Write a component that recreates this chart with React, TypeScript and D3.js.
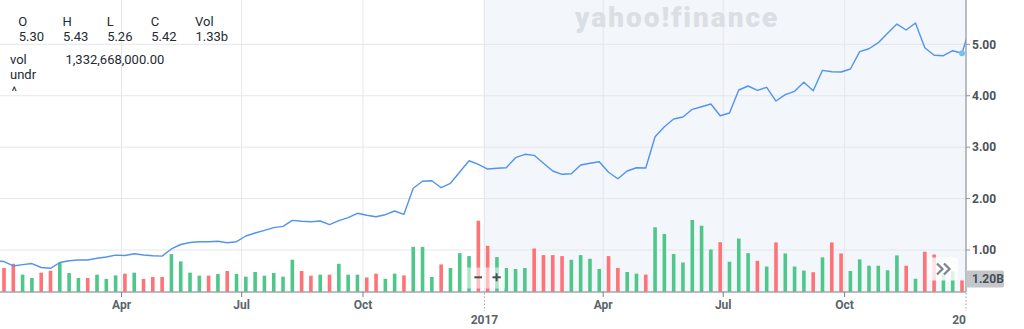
import React from 'react';
import * as d3 from 'd3';

// weekly periods (first one is the partially hidden week before Jan 2016, last one is the partial week of Jan 2018)
const weeks: Date[] = d3.timeMonday.range(new Date(2015, 11, 28), new Date(2018, 0, 2));

const closes: number[] = [
  0.785,
  0.776, 0.689, 0.715, 0.737, 0.66, 0.644, 0.757, 0.79, 0.806, 0.806,
  0.84, 0.864, 0.9, 0.893, 0.928, 0.903, 0.889, 0.88, 1.02, 1.107,
  1.146, 1.161, 1.161, 1.17, 1.142, 1.161, 1.272, 1.33, 1.383, 1.434,
  1.46, 1.577, 1.558, 1.55, 1.564, 1.492, 1.57, 1.628, 1.714, 1.675,
  1.647, 1.686, 1.758, 1.694, 2.2, 2.336, 2.347, 2.211, 2.297, 2.517,
  2.736, 2.666, 2.575, 2.59, 2.6, 2.795, 2.861, 2.841, 2.686, 2.536,
  2.472, 2.484, 2.653, 2.686, 2.717, 2.511, 2.386, 2.536, 2.6, 2.594,
  3.203, 3.397, 3.547, 3.586, 3.736, 3.786, 3.839, 3.611, 3.664, 4.111,
  4.189, 4.105, 4.164, 3.897, 4.02, 4.086, 4.261, 4.097, 4.494, 4.467,
  4.461, 4.519, 4.856, 4.914, 5.031, 5.214, 5.394, 5.278, 5.414, 4.934,
  4.786, 4.778, 4.875, 4.825,
  5.42,
];

// weekly volume, billions
const volumes: number[] = [
  2.3,
  2.58, 3.04, 1.85, 1.49, 2.07, 2.28, 3.18, 2.03, 1.49, 1.49, 1.85, 1.38, 1.77, 1.96, 2.07, 1.38, 1.6, 1.6, 4.1, 3.3, 2.07,
  1.74, 1.74, 1.92, 2.25, 1.92, 1.63, 2.14, 1.74, 2.03, 1.63, 3.48, 2.25, 1.74, 1.85, 1.85, 3.04, 1.85, 1.85, 1.55, 1.96, 1.4,
  1.96, 1.77, 4.89, 4.89, 1.6, 2.97, 2.58, 4.2, 3.88, 7.75, 5.0, 3.77, 2.58, 2.47, 2.58, 4.71, 3.99, 3.99, 3.88, 3.48,
  3.99, 3.59, 2.47, 3.88, 2.58, 2.14, 1.96, 1.85, 7.03, 6.3, 4.1, 3.18, 7.83, 7.2, 4.6, 5.4, 3.26, 5.8, 4.2, 3.37,
  2.74, 5.37, 4.17, 2.74, 2.3, 2.12, 3.74, 5.37, 4.17, 2.25, 3.52, 2.83, 2.83, 2.33, 3.96, 2.83, 1.4, 4.35, 4.05, 2.0, 2.2, 1.22,
  1.33,
];

// u = up week (green), d = down week (red)
const directionGroups: string[] = [
  'd',
  'dduudduuuduuududdduuu',
  'ududuuuuuuudduduuuddu',
  'uduuuduuudduuuuddddu',
  'uuudduuduuuuuuuduuud',
  'uduuududduuuuuududduud',
  'u',
];
const directions: string = directionGroups.join('');

const priceTicks: number[] = [1, 2, 3, 4, 5];
const timeTicks: Date[] = [
  new Date(2016, 3, 1), new Date(2016, 6, 1), new Date(2016, 9, 1), new Date(2017, 0, 1),
  new Date(2017, 3, 1), new Date(2017, 6, 1), new Date(2017, 9, 1), new Date(2018, 0, 1),
];
const timeLabels: string[] = ['Apr', 'Jul', 'Oct', '2017', 'Apr', 'Jul', 'Oct', '2018'];
const legendKeys: string[] = ['O', 'H', 'L', 'C', 'Vol'];
const legendValues: string[] = ['5.30', '5.43', '5.26', '5.42', '1.33b'];
const volLabel = '1,332,668,000.00';
const currentVolLabel = '1.20B';

const FONT = 'Roboto, "Helvetica Neue", Arial, sans-serif';

export default function App() {
  const W = 1024, H = 329;
  const plotRight = 966;
  const base = 291.6;
  const fmt = d3.timeFormat('%Y-%m-%d');
  const keys = weeks.map((d) => fmt(d));
  const x = d3.scalePoint<string>().domain(keys).range([-5.3, 971.3]);
  const t = d3.scaleTime().domain([new Date(2016, 0, 1), new Date(2018, 0, 1)]).range([1.5, 966]);
  const y = d3.scaleLinear().domain([1, 5]).range([250, 44.3]);
  const yv = d3.scaleLinear().domain([0, 8]).range([base, 218.4]);
  const legendX = d3.scalePoint<string>().domain(legendKeys).range([18.3, 195]);

  const line = d3.line<number>().x((_, i) => x(keys[i]) as number).y((d) => y(d));
  const shadeStart = t(new Date(2017, 0, 1)) - 1;
  const hoverIdx = closes.length - 2;
  const barW = 3.6;
  const green = '#4fc68a';
  const red = '#ff7277';

  return (
    <svg width={W} height={H} style={{ position: 'absolute', left: 0, top: 0 }} fontFamily={FONT}>
      <defs>
        <clipPath id="plot">
          <rect x={0} y={0} width={plotRight} height={base + 0.5} />
        </clipPath>
        <clipPath id="xlab">
          <rect x={0} y={292} width={plotRight + 1} height={40} />
        </clipPath>
      </defs>
      <rect x={0} y={0} width={W} height={H} fill="#fff" />
      <rect x={shadeStart} y={0} width={plotRight - shadeStart} height={base} fill="#f3f6fa" />

      {/* gridlines */}
      {priceTicks.map((p) => (
        <line key={'h' + p} x1={0} x2={plotRight} y1={y(p)} y2={y(p)} stroke="#e4e7ea" strokeWidth={1} />
      ))}
      {timeTicks.slice(0, -1).map((d, i) => (
        <line key={'v' + i} x1={t(d)} x2={t(d)} y1={0} y2={base} stroke="#e4e7ea" strokeWidth={1} />
      ))}

      {/* watermark */}
      <text x={575} y={27} fontSize={28} fontWeight={900} fill="#dadfe5" letterSpacing={2}
        fontFamily='Roboto, sans-serif'>yahoo!finance</text>

      <g clipPath="url(#plot)">
        {volumes.map((v, i) => (
          <rect key={'b' + i} x={(x(keys[i]) as number) - barW / 2} y={yv(v)} width={barW} height={base - yv(v)}
            fill={directions[i] === 'u' ? green : red} />
        ))}
        <path d={line(closes) || ''} fill="none" stroke="#5193f0" strokeWidth={1.4} strokeLinejoin="round" />
        <circle cx={x(keys[hoverIdx]) as number} cy={y(closes[hoverIdx])} r={3} fill="#74c2f4" />
      </g>

      {/* zoom controls overlay */}
      <rect x={466} y={267.5} width={39} height={21} fill="#fff" opacity={0.55} />
      <line x1={474.3} x2={482} y1={277.3} y2={277.3} stroke="#464e56" strokeWidth={2} />
      <line x1={492.5} x2={500.8} y1={277.3} y2={277.3} stroke="#464e56" strokeWidth={2} />
      <line x1={496.6} x2={496.6} y1={273.3} y2={281.3} stroke="#464e56" strokeWidth={2} />

      <rect x={928} y={257.5} width={30} height={23} rx={3} fill="#fff" opacity={0.8} />
      <path d="M937,263.5 L942.5,269 L937,274.5 M944,263.5 L949.5,269 L944,274.5" fill="none" stroke="#7c858d" strokeWidth={2.2} />

      {/* axes */}
      <line x1={0} x2={plotRight} y1={292} y2={292} stroke="#767c82" strokeWidth={1} />
      <line x1={plotRight} x2={plotRight} y1={0} y2={292} stroke="#8e949a" strokeWidth={1.2} />
      {priceTicks.map((p) => (
        <g key={'yt' + p}>
          <line x1={plotRight} x2={plotRight + 4} y1={y(p)} y2={y(p)} stroke="#8e949a" />
          <text x={972} y={y(p)} dy="0.35em" fontSize={12} fontWeight={700} fill="#4a525a">{p.toFixed(2)}</text>
        </g>
      ))}
      <rect x={966} y={270.5} width={38} height={17} rx={2} fill="#c3c7cc" />
      <text x={972} y={279} dy="0.35em" fontSize={12} fontWeight={700} fill="#464e56">{currentVolLabel}</text>

      {timeTicks.map((d, i) => {
        const isYear = timeLabels[i].length === 4;
        return (
          <g key={'xt' + i}>
            {isYear ? (
              <line x1={t(d)} x2={t(d)} y1={293} y2={311} stroke="#9aa0a6" strokeDasharray="1.5,2" />
            ) : (
              <line x1={t(d)} x2={t(d)} y1={292} y2={297} stroke="#767c82" />
            )}
            <text x={t(d)} y={isYear ? 324 : 309} textAnchor="middle" fontSize={12} fontWeight={700} fill="#5b636a"
              clipPath="url(#xlab)">{timeLabels[i]}</text>
          </g>
        );
      })}

      {/* legend */}
      {legendKeys.map((k, i) => (
        <g key={'lg' + k}>
          <text x={legendX(k)} y={25.5} fontSize={13} fill="#232a31">{k}</text>
          <text x={(legendX(k) as number) + 0.5} y={41} fontSize={13} fill="#232a31">{legendValues[i]}</text>
        </g>
      ))}
      <text x={10} y={63.5} fontSize={13} fill="#232a31">vol</text>
      <text x={65.5} y={63.5} fontSize={13} fill="#232a31">{volLabel}</text>
      <text x={10} y={79} fontSize={13} fill="#232a31">undr</text>
      <text x={11.5} y={96} fontSize={13} fill="#232a31">^</text>
    </svg>
  );
}
